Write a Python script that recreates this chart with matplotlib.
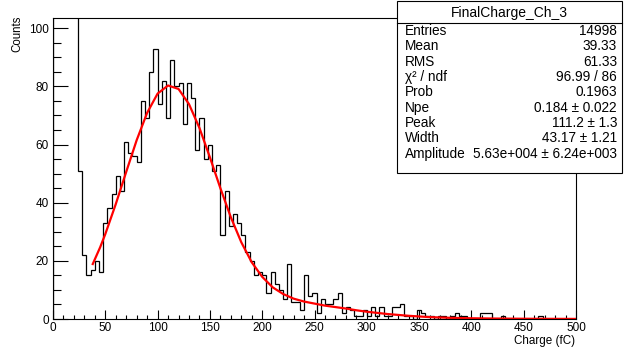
import numpy as np
import matplotlib
matplotlib.use("Agg")
import matplotlib.pyplot as plt
from matplotlib.patches import Rectangle
from matplotlib.ticker import MultipleLocator

plt.rcParams['font.family'] = ['Liberation Sans', 'DejaVu Sans']

# histogram: 125 bins of 4 fC from 0 to 500 (first bins are the clipped pedestal)
bin_width = 4
counts = [420, 1850, 3900, 4100, 1900, 380,
          51, 22, 15, 17, 20, 16, 33, 38, 43, 49,
          44, 61, 57, 56, 54, 75, 69, 85, 93, 74,
          82, 69, 89, 80, 81, 67, 81, 76, 58, 69,
          55, 60, 51, 53, 29, 44, 32, 36, 33, 29,
          23, 20, 15, 16, 15, 9, 16, 12, 10, 7,
          19, 6, 6, 3, 15, 8, 9, 2, 7, 5,
          5, 7, 9, 2, 4, 3, 1, 1, 3, 1,
          4, 1, 4, 1, 1, 4, 4, 5, 1, 1,
          0, 3, 2, 1, 1, 0, 1, 1, 0, 1,
          2, 1, 1, 0, 0, 0, 2, 2, 2, 0,
          0, 1, 0, 0, 0, 0, 0, 0, 0, 0,
          1, 0, 0, 0, 0]

# red fit curve
fit_x = [38, 45, 50, 60, 70, 80, 90, 100, 110, 120, 130, 140, 150, 160,
         170, 180, 190, 200, 210, 220, 230, 240, 250, 260, 270, 280, 290,
         300, 320, 340, 360, 380, 400, 420, 440, 460, 480, 500]
fit_y = [18.9, 24.6, 29.2, 39.5, 50.6, 61.5, 70.9, 77.5, 80.3, 79.1, 73.9,
         65.7, 55.6, 45.0, 35.0, 26.4, 19.5, 14.5, 10.9, 8.6, 7.0, 6.0, 5.3,
         4.6, 4.1, 3.6, 3.0, 2.5, 1.7, 1.1, 0.65, 0.4, 0.25, 0.16, 0.11,
         0.07, 0.05, 0.03]

stat_names = ["Entries", "Mean", "RMS", "\u03c7\u00b2 / ndf", "Prob", "Npe",
              "Peak", "Width", "Amplitude"]
stat_values = ["14998", "39.33", "61.33", "96.99 / 86", "0.1963",
               "0.184 \u00b1 0.022", "111.2 \u00b1 1.3", "43.17 \u00b1 1.21",
               "5.63e+004 \u00b1 6.24e+003"]

W, H = 629, 348
fig = plt.figure(figsize=(W / 100, H / 100), dpi=100)
ax = fig.add_axes([53 / W, 1 - 319 / H, (576 - 53) / W, (319 - 18) / H])

edges = np.arange(len(counts) + 1) * bin_width
ax.stairs(counts, edges, color='black', linewidth=0.9)
ax.plot(fit_x, fit_y, color='red', linewidth=1.6)

ax.set_xlim(0, 500)
ax.set_ylim(0, 103.5)
ax.xaxis.set_major_locator(MultipleLocator(50))
ax.xaxis.set_minor_locator(MultipleLocator(10))
ax.yaxis.set_major_locator(MultipleLocator(20))
ax.yaxis.set_minor_locator(MultipleLocator(5))
ax.tick_params(axis='both', which='both', direction='in', top=False,
               right=False, labelsize=8.5, width=0.8)
ax.tick_params(axis='x', which='major', length=6.5, pad=2.5)
ax.tick_params(axis='x', which='minor', length=3.2)
ax.tick_params(axis='y', which='major', length=10.8, pad=3)
ax.tick_params(axis='y', which='minor', length=5.8)
for s in ax.spines.values():
    s.set_linewidth(0.8)

fig.text(17 / W, 1 - 16 / H, "Counts", rotation=90, ha='center', va='top',
         fontsize=8.3)
fig.text(575 / W, 1 - 341 / H, "Charge (fC)", ha='right', va='center',
         fontsize=8.4)

# stats box
bx0, bx1, by0, by1 = 397, 622, 1, 173
fig.add_artist(Rectangle((bx0 / W, 1 - by1 / H), (bx1 - bx0) / W,
                         (by1 - by0) / H, transform=fig.transFigure,
                         facecolor='white', edgecolor='black', linewidth=0.8,
                         zorder=5))
fig.add_artist(plt.Line2D([bx0 / W, bx1 / W], [1 - 23 / H, 1 - 23 / H],
                          transform=fig.transFigure, color='black',
                          linewidth=0.8, zorder=6))
fig.text((bx0 + bx1) / 2 / W, 1 - 12.5 / H, "FinalCharge_Ch_3", ha='center',
         va='center', fontsize=10, zorder=7)
for i, (n, v) in enumerate(zip(stat_names, stat_values)):
    yy = 1 - (30.7 + i * 15.4) / H
    fig.text(405 / W, yy, n, ha='left', va='center', fontsize=9.8, zorder=7)
    fig.text(617 / W, yy, v, ha='right', va='center', fontsize=9.8, zorder=7)

fig.savefig("out.png", dpi=100)
